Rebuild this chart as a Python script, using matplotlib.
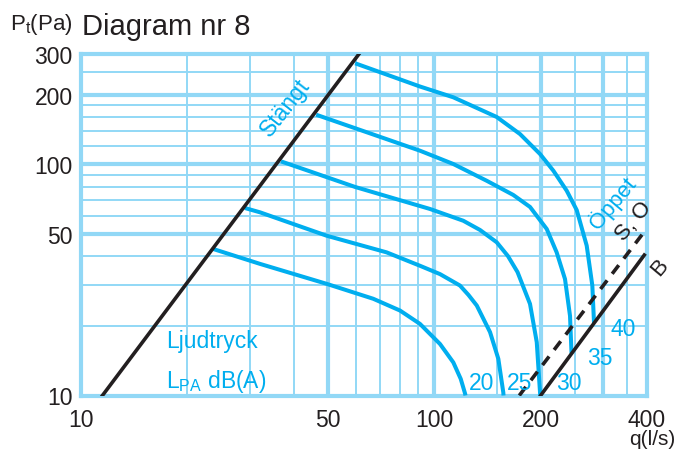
import numpy as np
import matplotlib
matplotlib.use('Agg')
import matplotlib.pyplot as plt
from matplotlib.ticker import NullLocator

plt.rcParams['font.family'] = ['Liberation Sans', 'DejaVu Sans']
plt.rcParams['mathtext.fontset'] = 'custom'
plt.rcParams['mathtext.rm'] = 'Liberation Sans'

######## DATA (flow q in l/s, total pressure Pt in Pa)
# closed damper line
stangt_q = [11.5, 61.2]
stangt_p = [10, 300]
# B line (solid) and S, O line (dashed)
b_q = [200, 393]
b_p = [10, 40.5]
so_q = [174, 393]
so_p = [10, 51.1]

# sound pressure curves LPA dB(A)
q20 = [23.7, 32.1, 49.6, 67.2, 80.0, 91.1, 103.8, 113.2, 118.8, 122.2, 122.5]
p20 = [43.0, 37.1, 30.4, 26.2, 23.3, 20.4, 16.7, 13.9, 11.8, 10.2, 10.0]
q25 = [29.1, 32.1, 49.6, 73.3, 91.1, 103.8, 118.2, 125.0, 131.9, 143.8, 151.8, 156.8, 157.0]
p25 = [64.7, 62.0, 49.1, 41.6, 36.4, 33.5, 29.9, 27.2, 24.5, 18.8, 14.4, 10.3, 10.0]
q30 = [36.8, 59.7, 97.2, 120.8, 134.7, 150.2, 161.6, 172.0, 186.6, 195.0, 199.2, 199.5]
p30 = [103.0, 79.8, 64.1, 57.0, 52.0, 46.0, 40.1, 34.2, 24.9, 17.0, 10.3, 10.0]
q35 = [46.3, 91.1, 113.2, 140.7, 167.3, 186.6, 208.1, 222.0, 234.4, 242.2, 244.6]
p35 = [163.9, 114.5, 100.3, 84.9, 73.7, 65.4, 52.5, 41.6, 31.9, 22.1, 15.2]
q40 = [59.7, 91.1, 113.2, 150.2, 174.8, 199.2, 217.3, 237.0, 253.0, 270.0, 280.1, 283.2]
p40 = [273.5, 217.0, 194.9, 160.2, 135.2, 110.8, 93.8, 76.9, 63.4, 44.5, 29.9, 20.6]

curve_labels = ['20', '25', '30', '35', '40']
label_q = [136.5, 174.8, 240.6, 294.4, 342.8]
label_p = [11.4, 11.4, 11.4, 14.6, 19.4]

x_ticks = [10, 50, 100, 200, 400]
y_ticks = [10, 50, 100, 200, 300]
x_grid_thin = [20, 30, 40, 60, 70, 80, 90, 150, 250, 350]
x_grid_thick = [50, 100, 200, 300]
y_grid_thin = [20, 30, 40, 60, 70, 80, 90, 120, 140, 160, 180, 250]
y_grid_thick = [50, 100, 200]
######################################

blue = '#00aeef'
gridc = '#92d8f6'
black = '#231f20'

fig = plt.figure(figsize=(6.77, 4.52), dpi=100)
ax = fig.add_axes([81/677, 1-396.5/452, (647-81)/677, (396.5-55)/452])
ax.set_xscale('log')
ax.set_yscale('log')
ax.set_xlim(10, 400)
ax.set_ylim(10, 300)

# grid by hand, thin and thick lines
for v in x_grid_thin:
    ax.axvline(v, color=gridc, lw=1.4, zorder=0)
for v in x_grid_thick:
    ax.axvline(v, color=gridc, lw=3.0, zorder=0)
for v in y_grid_thin:
    ax.axhline(v, color=gridc, lw=1.4, zorder=0)
for v in y_grid_thick:
    ax.axhline(v, color=gridc, lw=3.0, zorder=0)
for s in ax.spines.values():
    s.set_color(gridc)
    s.set_linewidth(3.0)

# curves
for q, p in [(q20, p20), (q25, p25), (q30, p30), (q35, p35), (q40, p40)]:
    ax.plot(q, p, color=blue, lw=2.9, solid_joinstyle='round', solid_capstyle='butt', zorder=3)

ax.plot(stangt_q, stangt_p, color=black, lw=2.6, zorder=4)
ax.plot(b_q, b_p, color=black, lw=2.6, zorder=4)
ax.plot(so_q, so_p, color=black, lw=2.6, dashes=(3.0, 2.3), zorder=4)

for lab, q, p in zip(curve_labels, label_q, label_p):
    ax.text(q, p, lab, color=blue, fontsize=16.5, ha='center', va='center', zorder=5)

ax.text(37.8, 177, 'Stängt', color=blue, fontsize=16.5, rotation=52,
        rotation_mode='anchor', ha='center', va='center')
ax.text(320, 68.7, 'Öppet', color=blue, fontsize=16, rotation=50,
        rotation_mode='anchor', ha='center', va='center')
ax.text(367.5, 56.9, 'S, O', color=black, fontsize=16, rotation=50,
        rotation_mode='anchor', ha='center', va='center')
ax.text(435.5, 36.0, 'B', color=black, fontsize=16, rotation=50,
        rotation_mode='anchor', ha='center', va='center', clip_on=False)
ax.text(17.4, 16.16, 'Ljudtryck', color=blue, fontsize=16.5, ha='left', va='baseline')
ax.text(17.4, 10.85, r'L$_\mathregular{PA}$ dB(A)', color=blue, fontsize=16.5, ha='left', va='baseline')

# ticks
ax.xaxis.set_minor_locator(NullLocator())
ax.yaxis.set_minor_locator(NullLocator())
ax.set_xticks(x_ticks)
ax.set_xticklabels([str(t) for t in x_ticks])
ax.set_yticks(y_ticks)
ax.set_yticklabels([str(t) for t in y_ticks])
ax.tick_params(length=0, labelsize=16.5, colors=black)
ax.tick_params(axis='x', pad=9)
ax.tick_params(axis='y', pad=6)

fig.text(10/677, 1-30/452, r'P$_\mathregular{t}$(Pa)', fontsize=16, color=black, va='baseline')
fig.text(82/677, 1-35/452, 'Diagram nr 8', fontsize=21, color=black, va='baseline')
fig.text(0.998, 1-430/452, 'q(l/s)', fontsize=15, color=black, ha='right', va='top')

fig.savefig('out.png', dpi=100)
